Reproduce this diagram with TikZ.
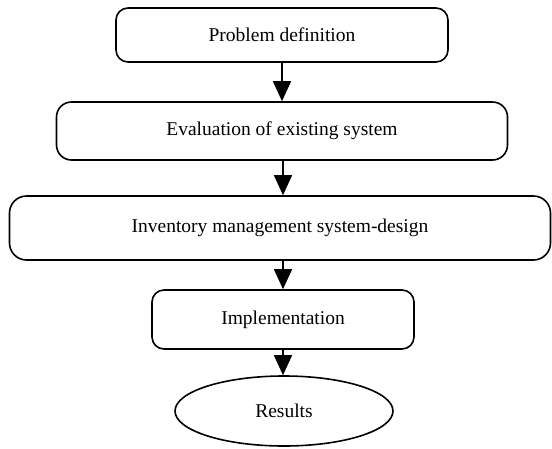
\documentclass[tikz,border=0pt]{standalone}
\usepackage{fontspec}
\setmainfont{Liberation Serif}
\usetikzlibrary{arrows.meta,shapes.geometric}
\begin{document}
\begin{tikzpicture}[x=1pt,y=-1pt,
  stepbox/.style={draw, line width=1.6pt, rounded corners=#1, align=center,
    font=\fontsize{19.5}{22}\selectfont, inner sep=0pt},
  endbox/.style={draw, ellipse, line width=1.6pt, inner sep=0pt,
    font=\fontsize{19.5}{22}\selectfont},
  arr/.style={line width=1.5pt, -{Triangle[width=18pt,length=20pt]}}]
  \useasboundingbox (0,0) rectangle (552,448);
  \node[stepbox=12pt, minimum width=332pt, minimum height=54pt] (b1) at (282,35) {Problem definition};
  \node[stepbox=15pt, minimum width=451pt, minimum height=58pt] (b2) at (282,131) {Evaluation of existing system};
  \node[stepbox=17pt, minimum width=541pt, minimum height=64pt] (b3) at (280,228) {Inventory management system-design};
  \node[stepbox=12pt, minimum width=262pt, minimum height=59pt] (b4) at (283,319.5) {Implementation};
  \node[endbox, minimum width=218pt, minimum height=70pt] (b5) at (284,411) {Results};
  \draw[arr] (b1.south) -- (b1.south |- b2.north);
  \draw[arr] (b2.south -| b4) -- (b3.north -| b4);
  \draw[arr] (b3.south -| b4) -- (b4.north);
  \draw[arr] (b4.south) -- (b4.south |- b5.north);
\end{tikzpicture}
\end{document}
